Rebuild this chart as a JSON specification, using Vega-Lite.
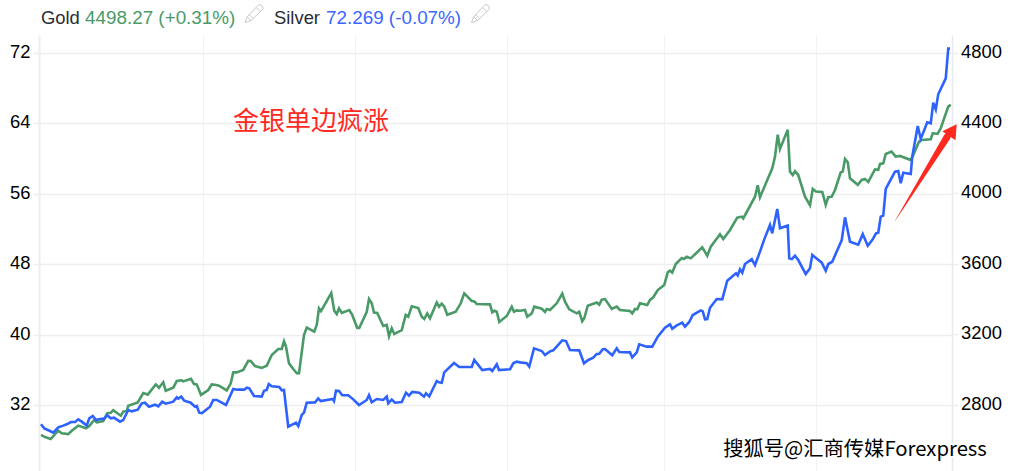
{"$schema":"https://vega.github.io/schema/vega-lite/v6.json","width":913,"height":436,"autosize":"none","padding":{"left":39,"top":35,"right":59,"bottom":0},"background":"white","config":{"view":{"stroke":null},"text":{"font":"Liberation Sans"}},
"datasets":{
"silver":[{"day":0.8,"price":29.81},{"day":2.1,"price":29.35},{"day":4.4,"price":29.05},{"day":5.7,"price":28.86},{"day":7.7,"price":29.47},{"day":9.7,"price":29.66},{"day":11.1,"price":29.81},{"day":12.8,"price":30.07},{"day":14.4,"price":30.07},{"day":15.7,"price":30.37},{"day":17.1,"price":30.11},{"day":19.1,"price":29.66},{"day":20.1,"price":30.49},{"day":21.5,"price":30.75},{"day":22.8,"price":30.3},{"day":24.4,"price":30.41},{"day":26,"price":30.45},{"day":27.3,"price":30.83},{"day":28.7,"price":30.49},{"day":30,"price":30.56},{"day":32.4,"price":30.11},{"day":33.7,"price":30.3},{"day":35.7,"price":31.43},{"day":37.1,"price":31.28},{"day":39.5,"price":31.47},{"day":41.1,"price":32.19},{"day":42.4,"price":32.26},{"day":44,"price":31.81},{"day":46.4,"price":32.04},{"day":47.7,"price":31.85},{"day":49.3,"price":32.38},{"day":50.7,"price":32.15},{"day":53.7,"price":32.38},{"day":55.1,"price":32.87},{"day":55.7,"price":32.72},{"day":56.9,"price":32.95},{"day":58.1,"price":32.49},{"day":60.7,"price":32.26},{"day":62.4,"price":31.81},{"day":63.1,"price":31.89},{"day":64.1,"price":31.13},{"day":65.2,"price":31.09},{"day":68.4,"price":31.81},{"day":69.7,"price":32.57},{"day":71.1,"price":32.57},{"day":74.8,"price":32},{"day":77.7,"price":33.82},{"day":79.3,"price":33.74},{"day":82.1,"price":33.74},{"day":83.1,"price":33.97},{"day":84.1,"price":33.89},{"day":86,"price":33.02},{"day":89.1,"price":32.95},{"day":90,"price":33.62},{"day":91.1,"price":33.7},{"day":91.9,"price":34.38},{"day":93.1,"price":34.12},{"day":96.1,"price":34.04},{"day":97.1,"price":33.66},{"day":98,"price":33.7},{"day":99.7,"price":29.54},{"day":102.8,"price":29.99},{"day":103.7,"price":29.62},{"day":105.1,"price":30.87},{"day":106,"price":31.13},{"day":107.1,"price":32.26},{"day":110.4,"price":32.3},{"day":111.7,"price":32.75},{"day":112.7,"price":32.45},{"day":117.5,"price":32.68},{"day":118,"price":32.45},{"day":118.8,"price":33.62},{"day":120,"price":33.59},{"day":121.3,"price":33.1},{"day":123.7,"price":33.1},{"day":125.7,"price":32.64},{"day":128,"price":32},{"day":131.1,"price":32.57},{"day":132,"price":33.13},{"day":133.1,"price":32.3},{"day":135.1,"price":32.68},{"day":137.7,"price":32.57},{"day":139.1,"price":32.95},{"day":139.7,"price":32.19},{"day":141.1,"price":32.61},{"day":142.4,"price":32.26},{"day":145.1,"price":32.34},{"day":146.8,"price":33.4},{"day":148,"price":33.06},{"day":149.3,"price":33.48},{"day":152.1,"price":33.4},{"day":154,"price":32.95},{"day":154.8,"price":33.32},{"day":156.1,"price":32.98},{"day":159.1,"price":34.72},{"day":160,"price":34.57},{"day":161.1,"price":34.53},{"day":162.1,"price":35.71},{"day":166,"price":36.77},{"day":168.1,"price":36.31},{"day":173.1,"price":36.31},{"day":174.1,"price":37.11},{"day":177.3,"price":35.97},{"day":180.4,"price":36.09},{"day":181.3,"price":35.86},{"day":183.1,"price":36.62},{"day":184,"price":35.97},{"day":188.4,"price":36.05},{"day":189.7,"price":36.73},{"day":191.1,"price":36.92},{"day":192.4,"price":36.84},{"day":195.1,"price":36.73},{"day":196.1,"price":36.35},{"day":198,"price":38.43},{"day":201.1,"price":38.13},{"day":202.4,"price":37.67},{"day":204.4,"price":38.09},{"day":205.7,"price":38.2},{"day":209.3,"price":39.34},{"day":210.8,"price":39.26},{"day":212.4,"price":38.24},{"day":216.1,"price":38.2},{"day":218,"price":36.73},{"day":219.7,"price":37.11},{"day":221.7,"price":37.37},{"day":223.1,"price":37.79},{"day":224.1,"price":37.82},{"day":225.5,"price":38.32},{"day":226.4,"price":38.35},{"day":229.3,"price":37.64},{"day":231.1,"price":38.43},{"day":232.1,"price":38.01},{"day":236.4,"price":37.97},{"day":237.3,"price":37.41},{"day":239.1,"price":37.97},{"day":240.1,"price":38.88},{"day":243.1,"price":38.62},{"day":245.3,"price":38.62},{"day":247.5,"price":39.75},{"day":250.4,"price":40.77},{"day":252.4,"price":41.15},{"day":253.3,"price":40.66},{"day":255.1,"price":41.04},{"day":257.3,"price":41.34},{"day":258.4,"price":40.89},{"day":260.1,"price":41.42},{"day":261.5,"price":42.21},{"day":264.7,"price":42.74},{"day":265.5,"price":42.63},{"day":266.4,"price":41.72},{"day":267.3,"price":41.76},{"day":268.4,"price":43.04},{"day":271.1,"price":44.03},{"day":273.3,"price":43.99},{"day":275.3,"price":46.11},{"day":278.8,"price":46.94},{"day":279.5,"price":46.71},{"day":280.4,"price":47.39},{"day":281.3,"price":47.01},{"day":282.4,"price":48},{"day":285.1,"price":48.56},{"day":286.4,"price":47.88},{"day":288.4,"price":49.4},{"day":290.1,"price":50.8},{"day":292.4,"price":52.43},{"day":293.3,"price":51.48},{"day":295.3,"price":54.25},{"day":296.4,"price":52.05},{"day":299.5,"price":52.36},{"day":300.1,"price":48.64},{"day":301.1,"price":48.56},{"day":302.4,"price":48.94},{"day":303.7,"price":48.45},{"day":306.7,"price":46.86},{"day":308.4,"price":47.51},{"day":309.3,"price":49.02},{"day":313.1,"price":48.15},{"day":314.7,"price":47.24},{"day":315.7,"price":48},{"day":317.3,"price":48.26},{"day":321.1,"price":50.72},{"day":322.4,"price":53.3},{"day":324.4,"price":50.53},{"day":327.7,"price":50.19},{"day":329.5,"price":51.41},{"day":331.5,"price":50.08},{"day":333.5,"price":50.8},{"day":334.8,"price":51.48},{"day":335.7,"price":51.56},{"day":336.7,"price":53.38},{"day":337.7,"price":53.49},{"day":338.7,"price":56.52},{"day":342.4,"price":58.48},{"day":343.7,"price":58.56},{"day":344.7,"price":57.16},{"day":345.7,"price":58.37},{"day":348.7,"price":58.22},{"day":349.3,"price":60.18},{"day":351.5,"price":63.66},{"day":352.7,"price":62.19},{"day":355.3,"price":64.08},{"day":356.7,"price":63.97},{"day":357.7,"price":66.31},{"day":358.7,"price":65.55},{"day":359.7,"price":67.26},{"day":362.7,"price":69.07},{"day":363.7,"price":72.44},{"day":364.4,"price":72.44}],
"gold":[{"day":0.8,"price":2630},{"day":2.4,"price":2618},{"day":4.7,"price":2607},{"day":7.7,"price":2654},{"day":9.1,"price":2639},{"day":11.7,"price":2635},{"day":13.1,"price":2654},{"day":15.7,"price":2683},{"day":18.8,"price":2668},{"day":20.1,"price":2681},{"day":22.1,"price":2715},{"day":23.1,"price":2702},{"day":25.7,"price":2709},{"day":27.3,"price":2753},{"day":28.7,"price":2756},{"day":29.7,"price":2770},{"day":32.7,"price":2739},{"day":33.7,"price":2762},{"day":35.1,"price":2766},{"day":35.7,"price":2796},{"day":39.5,"price":2815},{"day":41.7,"price":2868},{"day":43.5,"price":2859},{"day":46.7,"price":2917},{"day":48,"price":2898},{"day":49.7,"price":2929},{"day":50.7,"price":2881},{"day":53.7,"price":2898},{"day":55.1,"price":2936},{"day":57.1,"price":2940},{"day":57.7,"price":2934},{"day":60.8,"price":2949},{"day":62,"price":2919},{"day":63.1,"price":2917},{"day":64.8,"price":2857},{"day":67.7,"price":2885},{"day":69.1,"price":2917},{"day":70.4,"price":2915},{"day":72,"price":2910},{"day":75.1,"price":2883},{"day":76.7,"price":2923},{"day":77.7,"price":2985},{"day":79.1,"price":2985},{"day":81.7,"price":2999},{"day":83.7,"price":3051},{"day":84.7,"price":3050},{"day":86.4,"price":3021},{"day":89.1,"price":3010},{"day":91.1,"price":3023},{"day":93.1,"price":3084},{"day":95.7,"price":3118},{"day":97.1,"price":3118},{"day":98,"price":3161},{"day":98.8,"price":3131},{"day":100,"price":3036},{"day":101.7,"price":3004},{"day":103.1,"price":2980},{"day":104,"price":2980},{"day":106,"price":3197},{"day":107.1,"price":3239},{"day":110.1,"price":3216},{"day":111.1,"price":3254},{"day":112,"price":3348},{"day":112.8,"price":3333},{"day":116.9,"price":3435},{"day":118.1,"price":3335},{"day":119.1,"price":3316},{"day":120,"price":3348},{"day":121.1,"price":3322},{"day":124.1,"price":3339},{"day":125.3,"price":3311},{"day":127.3,"price":3237},{"day":128.1,"price":3237},{"day":131.1,"price":3329},{"day":132,"price":3401},{"day":133.1,"price":3377},{"day":134,"price":3324},{"day":135.3,"price":3322},{"day":137.7,"price":3248},{"day":139.1,"price":3254},{"day":140,"price":3190},{"day":141.1,"price":3235},{"day":142.1,"price":3203},{"day":145.1,"price":3225},{"day":146.7,"price":3311},{"day":147.7,"price":3301},{"day":149.1,"price":3360},{"day":151.7,"price":3350},{"day":153.1,"price":3301},{"day":154.1,"price":3288},{"day":155.3,"price":3320},{"day":156.4,"price":3292},{"day":159.1,"price":3382},{"day":160,"price":3358},{"day":161.1,"price":3375},{"day":162.1,"price":3358},{"day":163.3,"price":3312},{"day":166.7,"price":3329},{"day":168.7,"price":3377},{"day":170.1,"price":3433},{"day":173.1,"price":3390},{"day":174.1,"price":3388},{"day":175.1,"price":3373},{"day":180.4,"price":3371},{"day":181.3,"price":3326},{"day":182.1,"price":3335},{"day":183.1,"price":3329},{"day":184.1,"price":3271},{"day":187.1,"price":3305},{"day":189.1,"price":3358},{"day":190,"price":3329},{"day":191.1,"price":3337},{"day":192.4,"price":3335},{"day":194.4,"price":3339},{"day":195.3,"price":3301},{"day":197.1,"price":3320},{"day":198.1,"price":3358},{"day":201.1,"price":3346},{"day":202.4,"price":3328},{"day":203.1,"price":3345},{"day":204.4,"price":3339},{"day":207.1,"price":3377},{"day":209.3,"price":3432},{"day":210.4,"price":3386},{"day":212.1,"price":3343},{"day":215.1,"price":3320},{"day":216.1,"price":3329},{"day":217.3,"price":3275},{"day":218.1,"price":3292},{"day":219.5,"price":3363},{"day":223.1,"price":3382},{"day":224.1,"price":3369},{"day":225.1,"price":3398},{"day":226.4,"price":3401},{"day":229.1,"price":3345},{"day":231.1,"price":3358},{"day":232.4,"price":3339},{"day":236.4,"price":3333},{"day":237.3,"price":3320},{"day":238.4,"price":3345},{"day":239.3,"price":3343},{"day":240.4,"price":3377},{"day":243.3,"price":3367},{"day":244.4,"price":3396},{"day":245.7,"price":3411},{"day":247.5,"price":3452},{"day":250.1,"price":3481},{"day":251.5,"price":3553},{"day":252.4,"price":3562},{"day":253.3,"price":3551},{"day":254.7,"price":3600},{"day":257.1,"price":3634},{"day":258,"price":3628},{"day":259.1,"price":3641},{"day":260.7,"price":3632},{"day":265.3,"price":3694},{"day":267.3,"price":3647},{"day":268.7,"price":3698},{"day":270.4,"price":3730},{"day":272.4,"price":3769},{"day":273.7,"price":3742},{"day":276.4,"price":3793},{"day":279.3,"price":3863},{"day":281.1,"price":3869},{"day":281.7,"price":3859},{"day":286.4,"price":3982},{"day":287.5,"price":4047},{"day":288.4,"price":3979},{"day":293.3,"price":4143},{"day":294.4,"price":4209},{"day":295.5,"price":4334},{"day":296.4,"price":4253},{"day":299.5,"price":4362},{"day":300.4,"price":4124},{"day":301.5,"price":4105},{"day":302.4,"price":4126},{"day":303.7,"price":4105},{"day":306.4,"price":3982},{"day":308.4,"price":3933},{"day":309.5,"price":4026},{"day":310.8,"price":4011},{"day":313.3,"price":4009},{"day":314.7,"price":3935},{"day":315.7,"price":3979},{"day":317.1,"price":3982},{"day":318.4,"price":4020},{"day":320.7,"price":4120},{"day":321.5,"price":4124},{"day":322.4,"price":4196},{"day":323.5,"price":4177},{"day":324.4,"price":4086},{"day":327.5,"price":4049},{"day":329.1,"price":4077},{"day":330.4,"price":4083},{"day":331.7,"price":4066},{"day":334.4,"price":4137},{"day":335.7,"price":4134},{"day":336.4,"price":4168},{"day":337.7,"price":4171},{"day":338.7,"price":4224},{"day":341,"price":4238},{"day":342.7,"price":4209},{"day":344.4,"price":4213},{"day":348.7,"price":4190},{"day":349.7,"price":4219},{"day":352,"price":4294},{"day":353.1,"price":4304},{"day":356.7,"price":4308},{"day":357.5,"price":4342},{"day":359.4,"price":4338},{"day":360.7,"price":4370},{"day":363.7,"price":4493},{"day":364.7,"price":4504}]
},
"data":{"name":"gold"},
"encoding":{"x":{"field":"day","type":"quantitative","scale":{"domain":[0,365.2],"nice":false,"zero":false},"axis":{"title":null,"orient":"bottom","values":[65.4,126.3,187.3,249.8,310.8],"labels":false,"ticks":false,"domain":false,"grid":true,"gridColor":"#f1f3f6","gridWidth":1}}},
"layer":[
{"mark":{"type":"line","color":"#4a9a68","strokeWidth":2.6,"strokeJoin":"miter","interpolate":"linear"},
 "encoding":{"y":{"field":"price","type":"quantitative","scale":{"domain":[2425.5,4899.3],"nice":false,"zero":false},"axis":{"title":null,"orient":"right","format":"d","values":[2800,3200,3600,4000,4400,4800],"grid":false,"domain":true,"domainColor":"#e6e9ee","domainWidth":1.5,"ticks":true,"tickColor":"#eeeeee","tickWidth":1.5,"tickSize":6,"labelPadding":2.5,"labelFont":"Liberation Sans","labelFontSize":18.4,"labelColor":"#000000","labelOffset":-1.5}}}},
{"encoding":{"y":{"field":"price","type":"quantitative","scale":{"domain":[24.51,73.99],"nice":false,"zero":false},"axis":{"title":null,"orient":"left","values":[32,40,48,56,64,72],"grid":true,"gridColor":"#eeeeee","gridWidth":1.5,"domain":true,"domainColor":"#eeeeee","domainWidth":2,"ticks":true,"tickColor":"#eeeeee","tickWidth":1.5,"tickSize":6,"labelPadding":3,"labelFont":"Liberation Sans","labelFontSize":18.4,"labelColor":"#000000","labelOffset":-1.5}}},
 "layer":[
 {"data":{"name":"silver"},"mark":{"type":"line","color":"#2e62ff","strokeWidth":2.6,"strokeJoin":"miter"}},
 {"data":{"values":[{"day":342.4,"price":52.88},{"day":363.2,"price":62.41}]},"mark":{"type":"trail","color":"#ff2a1f"},"encoding":{"size":{"field":"day","type":"quantitative","legend":null,"scale":{"domain":[342.4,363.2],"range":[0.3,7],"zero":false}}}},
 {"data":{"values":[{"day":365,"price":62.98}]},"mark":{"type":"point","shape":"triangle","filled":true,"color":"#ff2a1f","opacity":1,"size":256,"angle":34}},
 {"data":{"values":[{"day":108.8,"price":64.11,"label":"金银单边疯涨"}]},"mark":{"type":"text","font":"Noto Sans CJK SC","fontSize":26,"color":"#ff2a1f","align":"center","baseline":"middle"},"encoding":{"text":{"field":"label"}}},
 {"data":{"values":[{"day":0.8,"price":75.9,"label":"Gold"},{"day":94,"price":75.9,"label":"Silver"}]},"mark":{"type":"text","font":"Liberation Sans","fontSize":18.4,"color":"#2b2b33","align":"left","baseline":"middle"},"encoding":{"text":{"field":"label"}}},
 {"data":{"values":[{"day":18.4,"price":75.9,"label":"4498.27 (+0.31%)"}]},"mark":{"type":"text","font":"Liberation Sans","fontSize":18.85,"color":"#4a9a68","align":"left","baseline":"middle"},"encoding":{"text":{"field":"label"}}},
 {"data":{"values":[{"day":114.8,"price":75.9,"label":"72.269 (-0.07%)"}]},"mark":{"type":"text","font":"Liberation Sans","fontSize":18.85,"color":"#3a66ff","align":"left","baseline":"middle"},"encoding":{"text":{"field":"label"}}},
 {"data":{"values":[{"day":86,"price":76.43},{"day":176.6,"price":76.43}]},"mark":{"type":"point","shape":"M-1 1L-0.75 0.35L0.45 -0.9L0.6 -1L0.85 -0.9L1 -0.6L0.9 -0.4L-0.35 0.8ZM-0.75 0.35L-0.35 0.8M-0.55 0.1L-0.1 0.55M0.25 -0.65L0.7 -0.2","filled":false,"stroke":"#c8c8c8","strokeWidth":1,"opacity":1,"size":324}},
 {"data":{"values":[{"day":273.7,"price":26.89,"label":"搜狐号@汇商传媒Forexpress"}]},"mark":{"type":"text","font":"Noto Sans CJK SC","fontSize":20.3,"color":"#ffffff","stroke":"#ffffff","strokeWidth":2.5,"align":"left","baseline":"middle"},"encoding":{"text":{"field":"label"}}},
 {"data":{"values":[{"day":273.7,"price":26.89,"label":"搜狐号@汇商传媒Forexpress"}]},"mark":{"type":"text","font":"Noto Sans CJK SC","fontSize":20.3,"color":"#000000","align":"left","baseline":"middle"},"encoding":{"text":{"field":"label"}}}
 ]}
],
"resolve":{"scale":{"y":"independent"},"axis":{"y":"independent"}}}
